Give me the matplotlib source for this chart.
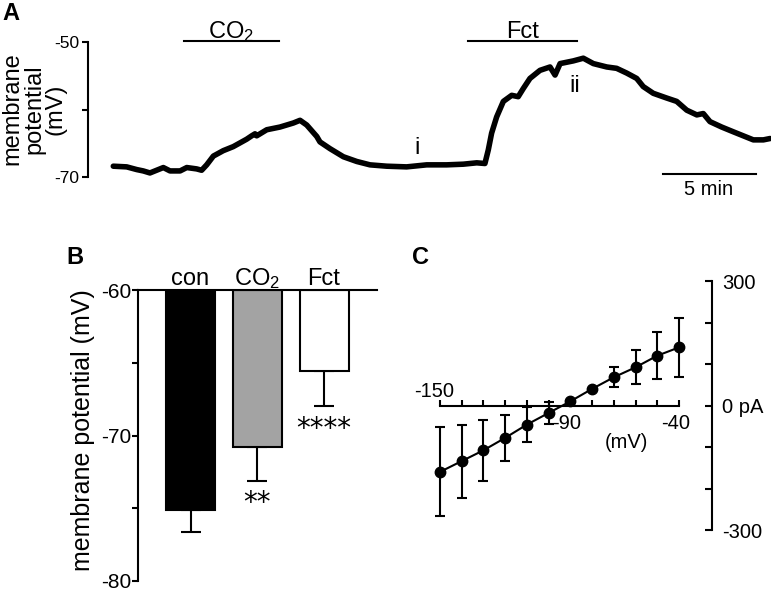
import matplotlib
matplotlib.use('Agg')
import matplotlib.pyplot as plt

plt.rcParams['font.family'] = ['Liberation Sans', 'DejaVu Sans']
plt.rcParams['mathtext.fontset'] = 'custom'
plt.rcParams['mathtext.rm'] = 'Liberation Sans'
plt.rcParams['mathtext.it'] = 'Liberation Sans:italic'

# ---------------- Panel A: membrane potential trace ----------------
trace_t = [0.07, 0.79, 1.33, 1.68, 2.04, 2.31, 2.76, 3.12, 3.66, 4.02, 4.55, 4.82,
           5.09, 5.45, 5.98, 6.52, 7.24, 7.51, 7.69, 7.78, 8.32, 9.03, 9.75, 10.11,
           10.47, 11.01, 11.18, 11.72, 12.44, 13.16, 13.87, 14.77, 15.84, 16.92,
           17.99, 18.89, 19.61, 20.05, 20.23, 20.41, 20.68, 21.04, 21.49, 21.84,
           22.11, 22.47, 23.01, 23.55, 23.82, 24.09, 24.80, 25.34, 25.88, 26.60,
           27.13, 27.67, 28.21, 28.56, 29.10, 29.82, 30.36, 30.90, 31.44, 31.79,
           32.15, 32.78, 33.40, 33.94, 34.48, 35.02, 35.38]
trace_mv = [-68.4, -68.5, -68.9, -69.1, -69.4, -69.1, -68.6, -69.1, -69.1, -68.6,
            -68.8, -69.0, -68.2, -66.9, -66.1, -65.5, -64.4, -63.9, -63.6, -63.9,
            -63.0, -62.6, -62.0, -61.6, -62.3, -64.0, -64.8, -65.8, -67.0, -67.7,
            -68.2, -68.4, -68.5, -68.2, -68.2, -68.1, -67.9, -68.0, -66.0, -63.5,
            -61.1, -58.8, -57.9, -58.1, -56.9, -55.4, -54.2, -53.7, -54.9, -53.2,
            -52.8, -52.4, -53.2, -53.7, -53.9, -54.6, -55.4, -56.6, -57.6, -58.3,
            -58.8, -60.1, -60.8, -60.6, -61.8, -62.6, -63.3, -63.9, -64.5, -64.5,
            -64.3]
a_yticks = [-70, -60, -50]
a_yticklabels = ['-70', '', '-50']
co2_period = [3.87, 8.98]
fct_period = [19.14, 25.0]
scale_bar = [29.6, 34.6]
mark_i = (16.4, -66.6)
mark_ii = (24.9, -57.4)

# ---------------- Panel B: bar chart ----------------
bar_labels = ['con', 'CO$_\\mathrm{2}$', 'Fct']
bar_means = [-75.1, -70.8, -65.6]
bar_sem = [1.5, 2.3, 2.4]
bar_colors = ['black', '#a3a3a3', 'white']
bar_stars = ['', '**', '****']
b_yticks = [-80, -75, -70, -65, -60]
b_yticklabels = ['-80', '', '-70', '', '-60']

# ---------------- Panel C: I-V curve ----------------
iv_mv = [-150, -140, -130, -120, -110, -100, -90, -80, -70, -60, -50, -40]
iv_pa = [-160, -134, -108, -78, -46, -18, 10, 40, 68, 92, 120, 140]
iv_err = [107, 88, 73, 56, 42, 26, 0, 0, 24, 41, 56, 72]
c_xticks = list(range(-150, -39, 10))
c_yticks = [-300, -200, -100, 0, 100, 200, 300]
c_yticklabels = ['-300', '', '', '0 pA', '', '', '300']

W, H = 771, 594
def fx(px):
    return px / W
def fy(py):
    return 1 - py / H

fig = plt.figure(figsize=(W / 100, H / 100), dpi=100)

# ===== Panel A =====
axA = fig.add_axes([fx(88), fy(177), (771 - 88) / W, 135 / H])
axA.set_xlim(-1.29, 35.43)
axA.set_ylim(-70, -50)
for s in ['top', 'right', 'bottom']:
    axA.spines[s].set_visible(False)
axA.spines['left'].set_linewidth(1.5)
axA.set_xticks([])
axA.set_yticks(a_yticks)
axA.set_yticklabels(a_yticklabels)
axA.tick_params(axis='y', direction='out', length=4.5, width=1.5, labelsize=12.5, pad=2)
axA.plot(trace_t, trace_mv, color='black', lw=4.0, solid_joinstyle='round',
         solid_capstyle='round', clip_on=False)
axA.plot(co2_period, [-49.85, -49.85], color='black', lw=1.5, clip_on=False)
axA.plot(fct_period, [-49.85, -49.85], color='black', lw=1.5, clip_on=False)
axA.text(sum(co2_period) / 2, -49.45, 'CO$_\\mathrm{2}$', ha='center', va='baseline', fontsize=17)
axA.text(sum(fct_period) / 2, -49.35, 'Fct', ha='center', va='baseline', fontsize=17)
axA.text(mark_i[0], mark_i[1], 'i', ha='center', va='baseline', fontsize=17)
axA.text(mark_ii[0], mark_ii[1], 'ii', ha='center', va='baseline', fontsize=17)
axA.plot(scale_bar, [-69.56, -69.56], color='black', lw=1.5, clip_on=False)
axA.text(sum(scale_bar) / 2, -70.4, '5 min', ha='center', va='top', fontsize=14.5)
fig.text(fx(34), fy(109), 'membrane\npotential\n(mV)', rotation=90, ha='center',
         va='center', multialignment='center', fontsize=17, linespacing=1.0)
fig.text(fx(2), fy(2), 'A', fontsize=17, fontweight='bold', ha='left', va='top')

# ===== Panel B =====
axB = fig.add_axes([fx(138), fy(581), 239 / W, 291 / H])
xb = list(range(len(bar_means)))
axB.set_xlim(-0.787, 2.794)
axB.set_ylim(-80, -60)
axB.errorbar(xb, bar_means, yerr=[bar_sem, [0] * len(bar_sem)], fmt='none',
             ecolor='black', elinewidth=1.5, capsize=7.5, capthick=1.5, zorder=1,
             clip_on=False)
axB.bar(xb, [m + 60 for m in bar_means], bottom=-60, width=0.734, color=bar_colors,
        edgecolor='black', linewidth=1.5, zorder=2)
for s in ['right', 'bottom']:
    axB.spines[s].set_visible(False)
axB.spines['left'].set_linewidth(1.5)
axB.spines['top'].set_linewidth(1.5)
axB.set_xticks([])
axB.set_yticks(b_yticks)
axB.set_yticklabels(b_yticklabels)
axB.tick_params(axis='y', direction='out', length=4, width=1.5, labelsize=15, pad=1)
for i, lab in enumerate(bar_labels):
    axB.text(i, -59.66, lab, ha='center', va='baseline', fontsize=17)
for i, st in enumerate(bar_stars):
    if st:
        axB.text(i, bar_means[i] - bar_sem[i] - 0.6, st, ha='center', va='top',
                 fontsize=20, family='DejaVu Sans')
fig.text(fx(83), fy(430), 'membrane potential (mV)', rotation=90, ha='center',
         va='center', fontsize=18)
fig.text(fx(66), fy(246), 'B', fontsize=17, fontweight='bold', ha='left', va='top')

# ===== Panel C =====
axC = fig.add_axes([fx(420), fy(530), (712 - 420) / W, 249 / H])
axC.set_xlim(-159.2, -24.8)
axC.set_ylim(-300, 300)
axC.spines['left'].set_visible(False)
axC.spines['top'].set_visible(False)
axC.spines['bottom'].set_position(('data', 0))
axC.spines['bottom'].set_bounds(-150, -40)
axC.spines['right'].set_bounds(-300, 300)
axC.spines['bottom'].set_linewidth(1.5)
axC.spines['right'].set_linewidth(1.5)
axC.set_xticks(c_xticks)
axC.set_xticklabels([''] * len(c_xticks))
axC.tick_params(axis='x', direction='in', length=4.5, width=1.5)
axC.yaxis.set_ticks_position('right')
axC.set_yticks(c_yticks)
axC.set_yticklabels(c_yticklabels)
axC.tick_params(axis='y', direction='in', length=5, width=1.5, labelsize=14.5, pad=7)
axC.errorbar(iv_mv, iv_pa, yerr=iv_err, fmt='-o', color='black', lw=1.5, ms=7.5,
             capsize=3.3, capthick=1.5, elinewidth=1.5, clip_on=False, zorder=3)
axC.text(-152.5, 20, '-150', ha='center', va='baseline', fontsize=14.5)
axC.text(-91.5, -20, '-90', ha='center', va='top', fontsize=14.5)
axC.text(-41.5, -20, '-40', ha='center', va='top', fontsize=14.5)
axC.text(-64.4, -66, '(mV)', ha='center', va='top', fontsize=14.5)
fig.text(fx(412), fy(246), 'C', fontsize=17, fontweight='bold', ha='left', va='top')

fig.savefig('out.png', dpi=100)
